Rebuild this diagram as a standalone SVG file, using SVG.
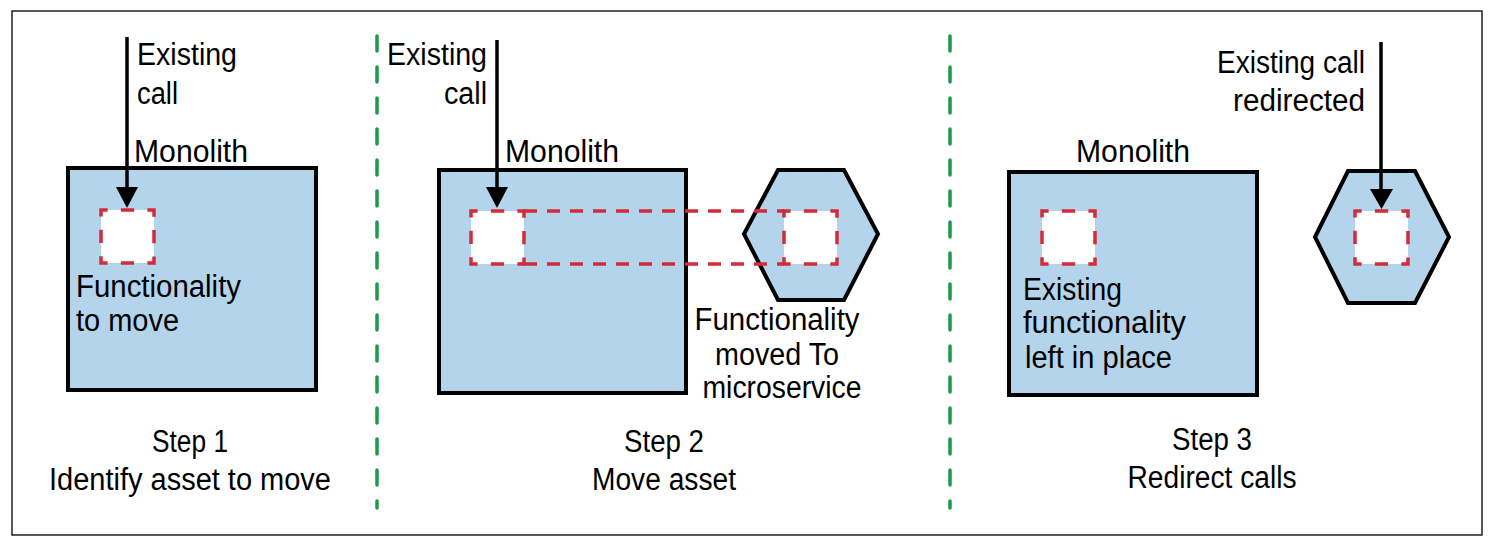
<svg xmlns="http://www.w3.org/2000/svg" width="1494" height="550" viewBox="0 0 1494 550">
<style>
.box{fill:#b3d4ea;stroke:#000;stroke-width:4;stroke-linejoin:miter}
.fn{fill:#fff;stroke:#d22b3a;stroke-width:3.5;stroke-dasharray:13.25 13.25;stroke-dashoffset:6.6}
.band{fill:none;stroke:#d22b3a;stroke-width:3.5;stroke-dasharray:13 10}
.sep{stroke:#1b9a4b;stroke-width:3.5;stroke-dasharray:15 16;stroke-linecap:round}
.call{stroke:#000;stroke-width:3.5;fill:none}
.head{fill:#000}
.t{font-family:"Liberation Sans",Arial,sans-serif;font-size:31px;fill:#000}
.m{text-anchor:middle}
.e{text-anchor:end}
</style>
<rect x="12" y="11" width="1470" height="524" fill="#fff" stroke="#222" stroke-width="1.5"/>
<g id="separators">
<line class="sep" x1="377" y1="36" x2="377" y2="508"/>
<line class="sep" x1="950" y1="36" x2="950" y2="508"/>
</g>
<g id="step1">
<g id="monolith1">
<rect class="box" x="68" y="168" width="248" height="222"/>
<text class="t" x="134" y="162" textLength="114" lengthAdjust="spacingAndGlyphs">Monolith</text>
</g>
<g id="func1">
<rect class="fn" x="101" y="210" width="53" height="53"/>
<text class="t" x="76" y="297" textLength="165" lengthAdjust="spacingAndGlyphs">Functionality</text>
<text class="t" x="76" y="331" textLength="103" lengthAdjust="spacingAndGlyphs">to move</text>
</g>
<g id="label1">
<text class="t m" x="190" y="452" textLength="76" lengthAdjust="spacingAndGlyphs">Step 1</text>
<text class="t m" x="190" y="490" textLength="282" lengthAdjust="spacingAndGlyphs">Identify asset to move</text>
</g>
<g id="call1label">
<text class="t" x="137" y="65" textLength="100" lengthAdjust="spacingAndGlyphs">Existing</text>
<text class="t" x="137" y="104" textLength="41" lengthAdjust="spacingAndGlyphs">call</text>
</g>
</g>
<g id="step2">
<g id="monolith2">
<rect class="box" x="439" y="170" width="247" height="223"/>
<text class="t" x="505" y="162" textLength="114" lengthAdjust="spacingAndGlyphs">Monolith</text>
</g>
<g id="micro2">
<polygon class="box" points="744,234 778,170 844,170 878,234 844,300 778,300"/>
</g>
<g id="func2">
<rect class="fn" x="471" y="211" width="53" height="53"/>
<rect class="fn" x="784" y="211" width="53" height="53"/>
<text class="t m" x="777" y="330" textLength="165" lengthAdjust="spacingAndGlyphs">Functionality</text>
<text class="t m" x="777" y="365" textLength="124" lengthAdjust="spacingAndGlyphs">moved To</text>
<text class="t m" x="782" y="398" textLength="159" lengthAdjust="spacingAndGlyphs">microservice</text>
</g>
<g id="label2">
<text class="t m" x="664" y="452" textLength="80" lengthAdjust="spacingAndGlyphs">Step 2</text>
<text class="t m" x="664" y="490" textLength="144" lengthAdjust="spacingAndGlyphs">Move asset</text>
</g>
<g id="call2label">
<text class="t e" x="487" y="65" textLength="100" lengthAdjust="spacingAndGlyphs">Existing</text>
<text class="t e" x="487" y="104" textLength="43" lengthAdjust="spacingAndGlyphs">call</text>
</g>
</g>
<g id="step3">
<g id="monolith3">
<rect class="box" x="1009" y="172" width="248" height="223"/>
<text class="t" x="1076" y="162" textLength="114" lengthAdjust="spacingAndGlyphs">Monolith</text>
</g>
<g id="func3">
<rect class="fn" x="1042" y="211" width="53" height="53"/>
<text class="t" x="1023" y="300" textLength="99" lengthAdjust="spacingAndGlyphs">Existing</text>
<text class="t" x="1023" y="333" textLength="163" lengthAdjust="spacingAndGlyphs">functionality</text>
<text class="t" x="1025" y="368" textLength="147" lengthAdjust="spacingAndGlyphs">left in place</text>
</g>
<g id="micro3">
<polygon class="box" points="1315,237 1348,171 1415,171 1449,237 1415,303 1348,303"/>
<rect class="fn" x="1355" y="211" width="53" height="53"/>
</g>
<g id="label3">
<text class="t m" x="1212" y="450" textLength="80" lengthAdjust="spacingAndGlyphs">Step 3</text>
<text class="t m" x="1212" y="488" textLength="169" lengthAdjust="spacingAndGlyphs">Redirect calls</text>
</g>
<g id="call3label">
<text class="t e" x="1365" y="73" textLength="148" lengthAdjust="spacingAndGlyphs">Existing call</text>
<text class="t e" x="1365" y="111" textLength="132" lengthAdjust="spacingAndGlyphs">redirected</text>
</g>
</g>
<g id="connectors">
<path class="band" d="M524,211 H784 M524,264 H784"/>
<line class="call" x1="127" y1="37" x2="127" y2="190"/>
<polygon class="head" points="116,187 138,187 127,208"/>
<line class="call" x1="497" y1="40" x2="497" y2="190"/>
<polygon class="head" points="486,187 508,187 497,208"/>
<line class="call" x1="1381" y1="42" x2="1381" y2="191"/>
<polygon class="head" points="1370,189 1393,189 1381.5,209"/>
</g>
</svg>
